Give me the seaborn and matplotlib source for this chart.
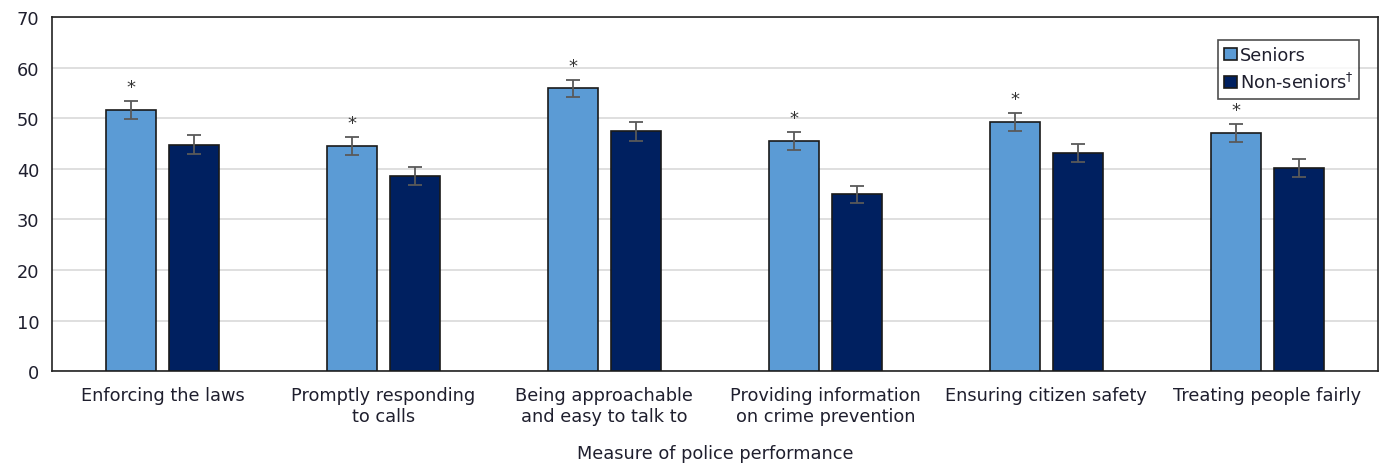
import matplotlib
matplotlib.use("Agg")
import matplotlib.pyplot as plt
import seaborn as sns
import pandas as pd
import numpy as np

categories = ["Enforcing the laws", "Promptly responding\nto calls",
              "Being approachable\nand easy to talk to", "Providing information\non crime prevention",
              "Ensuring citizen safety", "Treating people fairly"]
groups = ["Seniors", "Non-seniors"]
seniors = [51.6, 44.5, 55.9, 45.5, 49.2, 47.1]
non_seniors = [44.8, 38.6, 47.4, 35.0, 43.1, 40.2]
seniors_err = [1.8, 1.7, 1.7, 1.8, 1.8, 1.7]
non_seniors_err = [1.8, 1.8, 1.8, 1.7, 1.8, 1.8]
significant = [True, True, True, True, True, True]
legend_labels = ["Seniors", "Non-seniors$^{\\dagger}$"]

sns.set_theme(style="white")
plt.rcParams['font.family'] = ['DejaVu Sans']

df = pd.DataFrame({
    "category": categories * 2,
    "group": [groups[0]] * len(categories) + [groups[1]] * len(categories),
    "value": seniors + non_seniors,
})

FS = 12.8
TXT = "#1f1f2e"

fig = plt.figure(figsize=(13.82, 4.64), dpi=100)
ax = fig.add_axes([0.0376, 0.198, 0.9594, 0.763])

palette = {"Seniors": "#5B9BD5", "Non-seniors": "#002060"}
sns.barplot(data=df, x="category", y="value", hue="group", hue_order=groups,
            order=categories, palette=palette, errorbar=None, width=0.57, gap=0.2,
            edgecolor="#1a1a1a", linewidth=1.2, ax=ax, zorder=3, saturation=1)

containers = ax.containers
for cont, errs, is_sen in zip(containers, [seniors_err, non_seniors_err], [True, False]):
    for i, (bar, e) in enumerate(zip(cont, errs)):
        xc = bar.get_x() + bar.get_width() / 2
        h = bar.get_height()
        ax.errorbar(xc, h, yerr=e, fmt="none", ecolor="#595959", elinewidth=1.3,
                    capsize=5, capthick=1.3, zorder=4)
        if is_sen and significant[i]:
            ax.text(xc, h + e + 1.0, "*", ha="center", va="bottom", fontsize=13,
                    color="#333333", zorder=5)

ax.set_xlim(-0.5, len(categories) - 0.5)
ax.set_ylim(0, 70)
ax.set_yticks(np.arange(0, 71, 10))
ax.yaxis.grid(True, color="#D9D9D9", linewidth=1.2, zorder=0)
ax.set_axisbelow(True)
for s in ax.spines.values():
    s.set_color("#222222")
    s.set_linewidth(1.2)
ax.tick_params(axis="both", length=0, labelsize=FS, labelcolor=TXT)
ax.tick_params(axis="x", pad=11)
ax.tick_params(axis="y", pad=9)
for lbl in ax.get_xticklabels():
    lbl.set_linespacing(1.15)
ax.set_ylabel("")
ax.set_xlabel("Measure of police performance", fontsize=FS, color=TXT, labelpad=14)

handles, _ = ax.get_legend_handles_labels()
leg = ax.legend(handles, legend_labels, loc="upper right", bbox_to_anchor=(0.986, 0.935),
                borderaxespad=0, fontsize=FS, frameon=True, fancybox=False,
                handlelength=0.7, handleheight=0.7, handletextpad=0.15,
                borderpad=0.35, labelspacing=0.45, edgecolor="#222222")
leg.get_frame().set_linewidth(1.2)
for t in leg.get_texts():
    t.set_color(TXT)

fig.savefig("out.png", dpi=100)
